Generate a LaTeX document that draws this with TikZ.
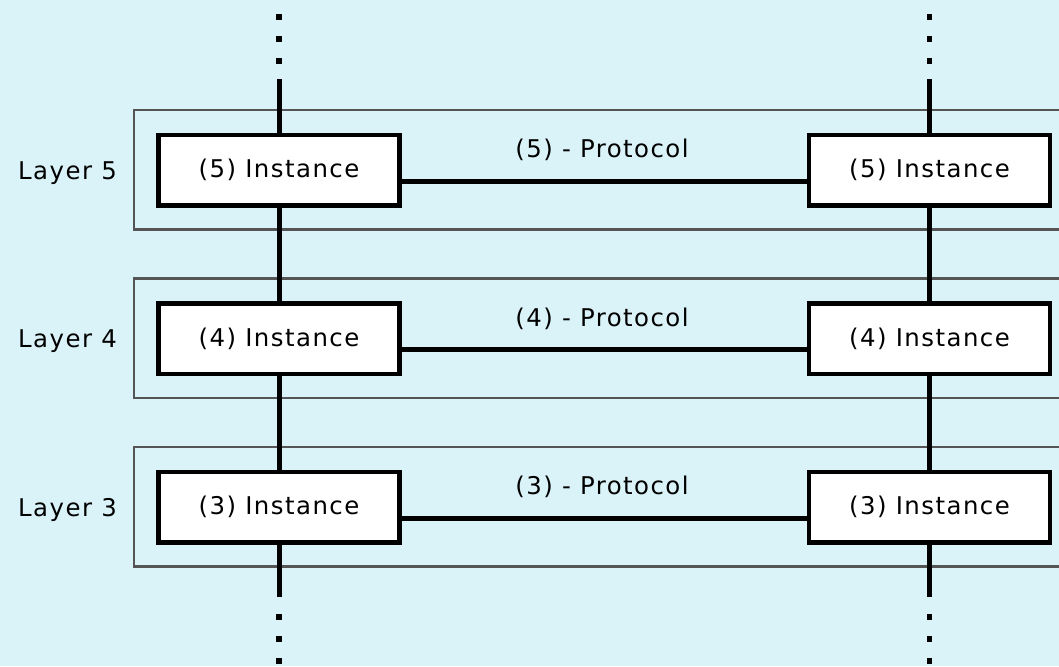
\documentclass[tikz,border=0pt]{standalone}
\usepackage{fontspec}
\newfontfamily\labfont[LetterSpace=6]{DejaVu Sans}
\definecolor{bgc}{RGB}{218,243,248}
\definecolor{layerc}{RGB}{85,85,85}
\begin{document}
\begin{tikzpicture}[x=0.5pt,y=-0.5pt,
  font=\labfont\fontsize{12.2pt}{14pt}\selectfont,
  inst/.style={draw=black,fill=white,line width=2.25pt,minimum width=120.5pt,minimum height=35.25pt,inner sep=0pt},
  layerbox/.style={draw=layerc,line width=1.25pt},
  conn/.style={draw=black,line width=2.5pt},
  dotline/.style={draw=black,line width=2.75pt,dash pattern=on 2.75pt off 8.25pt},
  lbl/.style={inner sep=0pt}]
\fill[bgc] (0,0) rectangle (1059,666);
\useasboundingbox (0,0) rectangle (1059,666);
% layer rectangles
\foreach \k/\dy in {5/0,4/168.5,3/337}{
  \draw[layerbox] (134,110+\dy) rectangle (1100,229.5+\dy);
}
% end coordinates
\coordinate (lt1) at (279,14);
\coordinate (lt2) at (279,79);
\coordinate (rt1) at (929.5,14);
\coordinate (rt2) at (929.5,79);
\coordinate (lb1) at (279,597);
\coordinate (lb2) at (279,666);
\coordinate (rb1) at (929.5,597);
\coordinate (rb2) at (929.5,666);
\coordinate (lb0) at (279,614.25);
\coordinate (rb0) at (929.5,614.25);
% instance nodes
\node[inst] (l5) at (279,170.25) {(5) Instance};
\node[inst] (r5) at (929.5,170.25) {(5) Instance};
\node[inst] (l4) at (279,338.75) {(4) Instance};
\node[inst] (r4) at (929.5,338.75) {(4) Instance};
\node[inst] (l3) at (279,507.25) {(3) Instance};
\node[inst] (r3) at (929.5,507.25) {(3) Instance};
% vertical connectors
\draw[conn] (lt2) -- (l5.north);
\draw[conn] (l5.south) -- (l4.north);
\draw[conn] (l4.south) -- (l3.north);
\draw[conn] (l3.south) -- (lb1);
\draw[conn] (rt2) -- (r5.north);
\draw[conn] (r5.south) -- (r4.north);
\draw[conn] (r4.south) -- (r3.north);
\draw[conn] (r3.south) -- (rb1);
\draw[dotline] (lt1) -- (lt2);
\draw[dotline] (rt1) -- (rt2);
\draw[dotline] (lb0) -- (lb2);
\draw[dotline] (rb0) -- (rb2);
% horizontal protocol connectors
\draw[conn] ([yshift=-5.5pt]l5.east) -- ([yshift=-5.5pt]r5.west);
\draw[conn] ([yshift=-5.5pt]l4.east) -- ([yshift=-5.5pt]r4.west);
\draw[conn] ([yshift=-5.5pt]l3.east) -- ([yshift=-5.5pt]r3.west);
% redraw nodes on top
\node[inst] at (l5) {(5) Instance};
\node[inst] at (r5) {(5) Instance};
\node[inst] at (l4) {(4) Instance};
\node[inst] at (r4) {(4) Instance};
\node[inst] at (l3) {(3) Instance};
\node[inst] at (r3) {(3) Instance};
% protocol labels
\node[lbl] (p5) at (602,150) {(5) - Protocol};
\node[lbl] (p4) at (602,318.5) {(4) - Protocol};
\node[lbl] (p3) at (602,487) {(3) - Protocol};
% layer labels
\node[lbl] (y5) at (67.5,173) {Layer 5};
\node[lbl] (y4) at (67.5,341.5) {Layer 4};
\node[lbl] (y3) at (67.5,510) {Layer 3};
\end{tikzpicture}
\end{document}
